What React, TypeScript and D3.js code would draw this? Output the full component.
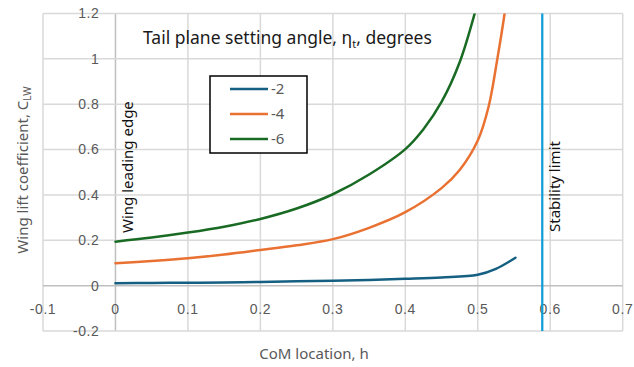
import * as d3 from "d3";
import { useEffect, useRef } from "react";

// CoM location h (x) vs wing lift coefficient (y), one list per tail setting angle
const seriesNames = ["-2", "-4", "-6"];
const seriesColors = ["#156082", "#E97132", "#196B24"];

const hMinus2 = [0, 0.05, 0.1, 0.15, 0.2, 0.25, 0.3, 0.35, 0.4, 0.45, 0.5, 0.525, 0.552];
const clMinus2 = [0.011, 0.012, 0.013, 0.014, 0.016, 0.019, 0.022, 0.025, 0.03, 0.036, 0.048, 0.074, 0.123];

const hMinus4 = [0, 0.05, 0.1, 0.15, 0.2, 0.25, 0.3, 0.35, 0.4, 0.45, 0.475, 0.5, 0.515, 0.527, 0.537, 0.545];
const clMinus4 = [0.099, 0.109, 0.121, 0.137, 0.157, 0.178, 0.205, 0.255, 0.324, 0.43, 0.51, 0.64, 0.79, 1.0, 1.2, 1.4];

const hMinus6 = [0, 0.05, 0.1, 0.15, 0.2, 0.25, 0.3, 0.35, 0.4, 0.425, 0.45, 0.475, 0.5];
const clMinus6 = [0.194, 0.212, 0.234, 0.26, 0.294, 0.34, 0.403, 0.49, 0.602, 0.69, 0.81, 0.985, 1.25];

const xTicks = [-0.1, 0, 0.1, 0.2, 0.3, 0.4, 0.5, 0.6, 0.7];
const yTicks = [-0.2, 0, 0.2, 0.4, 0.6, 0.8, 1, 1.2];
const stabilityLimit = 0.589;

export default function App() {
  const svgRef = useRef<SVGSVGElement>(null);

  const width = 634;
  const height = 367;
  const plot = { left: 43, right: 622.7, top: 13.5, bottom: 331 };

  useEffect(() => {
    const svg = d3.select(svgRef.current);
    svg.selectAll("*").remove();

    const x = d3.scaleLinear().domain([-0.1, 0.7]).range([plot.left, plot.right]);
    const y = d3.scaleLinear().domain([-0.2, 1.2]).range([plot.bottom, plot.top]);

    svg.append("rect").attr("width", width).attr("height", height).attr("fill", "#fff");

    // gridlines
    svg.append("g")
      .selectAll("line")
      .data(xTicks)
      .enter().append("line")
      .attr("x1", d => x(d)).attr("x2", d => x(d))
      .attr("y1", plot.top).attr("y2", plot.bottom)
      .attr("stroke", d => (d === 0 ? "#bfbfbf" : "#d9d9d9"))
      .attr("stroke-width", 1.5);

    svg.append("g")
      .selectAll("line")
      .data(yTicks)
      .enter().append("line")
      .attr("x1", plot.left).attr("x2", plot.right)
      .attr("y1", d => y(d)).attr("y2", d => y(d))
      .attr("stroke", d => (d === 0 ? "#bfbfbf" : "#d9d9d9"))
      .attr("stroke-width", 1.5);

    const tickFont = "'Liberation Sans', Arial, sans-serif";

    svg.append("g")
      .selectAll("text")
      .data(yTicks)
      .enter().append("text")
      .attr("x", x(0) - 16)
      .attr("y", d => y(d))
      .attr("dy", "0.35em")
      .attr("text-anchor", "end")
      .attr("font-family", tickFont)
      .attr("font-size", 14)
      .attr("letter-spacing", 0.6)
      .attr("fill", "#595959")
      .text(d => String(d));

    svg.append("g")
      .selectAll("text")
      .data(xTicks)
      .enter().append("text")
      .attr("x", d => x(d))
      .attr("y", y(0) + 28)
      .attr("text-anchor", "middle")
      .attr("font-family", tickFont)
      .attr("font-size", 14)
      .attr("letter-spacing", 0.6)
      .attr("fill", "#595959")
      .text(d => String(d));

    // clip for the series
    svg.append("clipPath").attr("id", "plotClip")
      .append("rect")
      .attr("x", plot.left).attr("y", plot.top)
      .attr("width", plot.right - plot.left).attr("height", plot.bottom - plot.top);

    const seriesData = [
      hMinus2.map((h, i) => [h, clMinus2[i]]),
      hMinus4.map((h, i) => [h, clMinus4[i]]),
      hMinus6.map((h, i) => [h, clMinus6[i]]),
    ];

    const line = d3.line<number[]>()
      .x(d => x(d[0]))
      .y(d => y(d[1]))
      .curve(d3.curveCatmullRom.alpha(0.5));

    svg.append("g")
      .attr("clip-path", "url(#plotClip)")
      .selectAll("path")
      .data(seriesData)
      .enter().append("path")
      .attr("d", d => line(d))
      .attr("fill", "none")
      .attr("stroke", (d, i) => seriesColors[i])
      .attr("stroke-width", 2.5)
      .attr("stroke-linecap", "round");

    // stability limit
    svg.append("line")
      .attr("x1", x(stabilityLimit)).attr("x2", x(stabilityLimit))
      .attr("y1", plot.top).attr("y2", plot.bottom)
      .attr("stroke", "#0F9ED5")
      .attr("stroke-width", 2.25);

    const labelFont = "'Noto Sans', 'Open Sans', sans-serif";

    svg.append("text")
      .attr("transform", `translate(${x(0) + 18},233) rotate(-90)`)
      .attr("font-family", labelFont)
      .attr("font-size", 15)
      .attr("fill", "#111")
      .text("Wing leading edge");

    svg.append("text")
      .attr("transform", `translate(${x(stabilityLimit) + 18},232) rotate(-90)`)
      .attr("font-family", labelFont)
      .attr("font-size", 15)
      .attr("fill", "#111")
      .text("Stability limit");

    // chart title inside the plot
    const title = svg.append("text")
      .attr("x", 143).attr("y", 44)
      .attr("font-family", labelFont)
      .attr("font-size", 17.5)
      .attr("fill", "#1a1a1a");
    title.append("tspan").text("Tail plane setting angle, η");
    title.append("tspan").attr("font-size", 11).attr("dy", 4).text("t");
    title.append("tspan").attr("dy", -4).text(", degrees");

    // axis titles
    const yTitle = svg.append("text")
      .attr("transform", `translate(28,170) rotate(-90)`)
      .attr("text-anchor", "middle")
      .attr("font-family", labelFont)
      .attr("font-size", 15)
      .attr("fill", "#595959");
    yTitle.append("tspan").text("Wing lift coefficient, C");
    yTitle.append("tspan").attr("font-size", 10).attr("dy", 3).text("LW");

    svg.append("text")
      .attr("x", 314).attr("y", 359)
      .attr("text-anchor", "middle")
      .attr("font-family", labelFont)
      .attr("font-size", 15)
      .attr("fill", "#595959")
      .text("CoM location, h");

    // legend
    const legend = svg.append("g");
    legend.append("rect")
      .attr("x", 210).attr("y", 76)
      .attr("width", 97).attr("height", 77)
      .attr("fill", "#fff")
      .attr("stroke", "#000")
      .attr("stroke-width", 1.5);

    const rows = legend.selectAll("g.item")
      .data(seriesNames)
      .enter().append("g")
      .classed("item", true)
      .attr("transform", (d, i) => `translate(0,${89 + i * 25})`);

    rows.append("line")
      .attr("x1", 230).attr("x2", 268)
      .attr("stroke", (d, i) => seriesColors[i])
      .attr("stroke-width", 2.5);

    rows.append("text")
      .attr("x", 271)
      .attr("dy", "0.35em")
      .attr("font-family", labelFont)
      .attr("font-size", 15)
      .attr("fill", "#595959")
      .text(d => d);
  }, []);

  return (
    <svg
      ref={svgRef}
      width={width}
      height={height}
      style={{ position: "absolute", left: 0, top: 0, display: "block" }}
    ></svg>
  );
}
